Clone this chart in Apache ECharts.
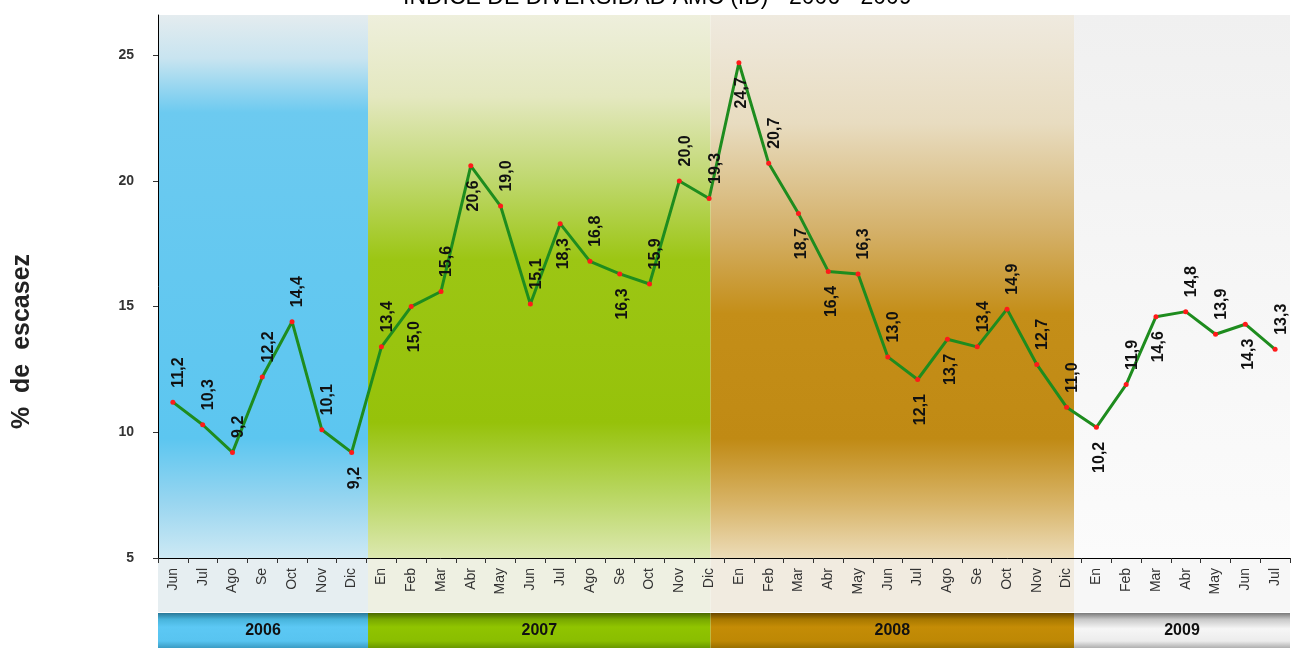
<!DOCTYPE html>
<html>
<head>
<meta charset="utf-8">
<script src="https://cdn.jsdelivr.net/npm/echarts@6/dist/echarts.min.js"></script>
<style>html,body{margin:0;padding:0;background:#fff;}#c{width:1303px;height:648px;}</style>
</head>
<body>
<div id="c"></div>
<script>
const monthLabels = ['Jun','Jul','Ago','Se','Oct','Nov','Dic',
  'En','Feb','Mar','Abr','May','Jun','Jul','Ago','Se','Oct','Nov','Dic',
  'En','Feb','Mar','Abr','May','Jun','Jul','Ago','Se','Oct','Nov','Dic',
  'En','Feb','Mar','Abr','May','Jun','Jul'];
const values = [11.2,10.3,9.2,12.2,14.4,10.1,9.2,
  13.4,15.0,15.6,20.6,19.0,15.1,18.3,16.8,16.3,15.9,20.0,19.3,
  24.7,20.7,18.7,16.4,16.3,13.0,12.1,13.7,13.4,14.9,12.7,11.0,
  10.2,11.9,14.6,14.8,13.9,14.3,13.3];
const years = ['2006','2007','2008','2009'];
const yearBounds = [-0.5, 6.55, 18.05, 30.25, 37.5];
const yTicks = [5,10,15,20,25];

const categories = monthLabels.map((m,i)=> i + '_' + m);
const labelBelow = [6,8,10,13,15,19,21,22,25,26,31,33,36];

const G = (stops)=> new echarts.graphic.LinearGradient(0,0,0,1, stops.map(s=>({offset:s[0],color:s[1]})));
const bandColors = [
  G([[0,'#e4ecef'],[0.08,'#c8e4f0'],[0.18,'#6ccaf0'],[0.78,'#5cc6f0'],[0.9,'#9ad6f0'],[1,'#cde9f4']]),
  G([[0,'#eeefdc'],[0.15,'#e4e8c0'],[0.3,'#c0d870'],[0.45,'#9cc614'],[0.75,'#96c20a'],[0.88,'#b8d660'],[1,'#dce8b0']]),
  G([[0,'#efeadf'],[0.2,'#e8dcc0'],[0.4,'#d4b068'],[0.55,'#c48e18'],[0.78,'#c08a14'],[0.9,'#d8b468'],[1,'#ecdcb8']]),
  G([[0,'#f0f0f0'],[0.5,'#f6f6f6'],[1,'#fbfbfb']])
];
const stripColors = ['#e6eef1','#eef0e2','#f1ebe0','#f7f7f7'];
const yearColors = [
  G([[0,'#2a7898'],[0.18,'#48b4dc'],[0.4,'#5cc8f4'],[0.8,'#58c4f0'],[1,'#3a9cc4']]),
  G([[0,'#4a6800'],[0.18,'#78a800'],[0.4,'#90c400'],[0.8,'#8abe00'],[1,'#6a9800']]),
  G([[0,'#6a4800'],[0.18,'#a87800'],[0.4,'#c48c06'],[0.8,'#be8804'],[1,'#9a7000']]),
  G([[0,'#7a7a7a'],[0.18,'#c8c8c8'],[0.45,'#f6f6f6'],[0.8,'#ececec'],[1,'#b0b0b0']])
];

function areas(colors, withLabel){
  return years.map((y,i)=>[
    {name: withLabel ? y : '', xAxis: yearBounds[i], itemStyle:{color: colors[i]}},
    {xAxis: yearBounds[i+1]}
  ]);
}

const fmt = v => v.toFixed(1).replace('.', ',');
const lblAbove = {position:'top', align:'left', verticalAlign:'middle', distance:12, offset:[0,6]};
const lblBelow = {position:'bottom', align:'right', verticalAlign:'middle', distance:12, offset:[0,3]};

const chart = echarts.init(document.getElementById('c'));
chart.setOption({
  animation:false,
  title:{text:'INDICE DE DIVERSIDAD AMC (ID) - 2006 - 2009', left:398, top:-19,
    textStyle:{fontFamily:'Liberation Sans', fontSize:23, fontWeight:'normal', color:'#000'}},
  grid:[
    {left:158, right:13, top:15, bottom:90},
    {left:158, right:13, top:558, height:54},
    {left:158, right:13, top:613, height:35}
  ],
  xAxis:[
    {type:'category', gridIndex:0, data:categories, boundaryGap:true, z:10,
      axisLine:{lineStyle:{color:'#000', width:1}},
      axisTick:{show:true, length:5, lineStyle:{color:'#333'}},
      axisLabel:{rotate:90, interval:0, fontFamily:'Liberation Sans', fontSize:14, color:'#333', margin:10,
        formatter:(v,i)=>monthLabels[i]}},
    {type:'value', gridIndex:0, min:-0.5, max:37.5, show:false},
    {type:'value', gridIndex:1, min:-0.5, max:37.5, show:false},
    {type:'value', gridIndex:2, min:-0.5, max:37.5, show:false}
  ],
  yAxis:[
    {type:'value', gridIndex:0, min:5, max:26.6, interval:5, z:10,
      name:'%  de  escasez', nameLocation:'middle', nameGap:123, nameRotate:90,
      nameTextStyle:{fontFamily:'Liberation Sans', fontSize:25, fontWeight:'bold', color:'#222', padding:[0,110,0,0]},
      axisLine:{show:true, onZero:false, lineStyle:{color:'#000'}},
      axisTick:{show:true, length:5, lineStyle:{color:'#333'}},
      splitLine:{show:false},
      axisLabel:{showMaxLabel:false, fontFamily:'Liberation Sans', fontSize:14, fontWeight:'bold', color:'#333', margin:24,
        formatter:v=> yTicks.includes(v) ? String(v) : ''}},
    {type:'value', gridIndex:1, min:0, max:1, show:false},
    {type:'value', gridIndex:2, min:0, max:1, show:false}
  ],
  series:[
    {type:'line', xAxisIndex:1, yAxisIndex:0, data:[], silent:true,
      markArea:{silent:true, z:0, data: areas(bandColors,false)}},
    {type:'line', xAxisIndex:2, yAxisIndex:1, data:[], silent:true,
      markArea:{silent:true, z:0, data: areas(stripColors,false)}},
    {type:'line', xAxisIndex:3, yAxisIndex:2, data:[], silent:true,
      markArea:{silent:true, data: areas(yearColors,true),
        label:{show:true, position:'inside', fontFamily:'Liberation Sans', fontSize:16, fontWeight:'bold', color:'#111'}}},
    {type:'line', xAxisIndex:0, yAxisIndex:0, z:5,
      data: values.map((v,i)=>({value:v, label: labelBelow.includes(i) ? lblBelow : lblAbove})),
      symbol:'circle', symbolSize:5, showAllSymbol:true,
      lineStyle:{color:'#1e8c1e', width:3},
      itemStyle:{color:'#ff1a1a'},
      label:{show:true, rotate:90, fontFamily:'Liberation Sans', fontSize:16, fontWeight:'bold', color:'#111',
        formatter:p=>fmt(p.value)}}
  ]
});
</script>
</body>
</html>
